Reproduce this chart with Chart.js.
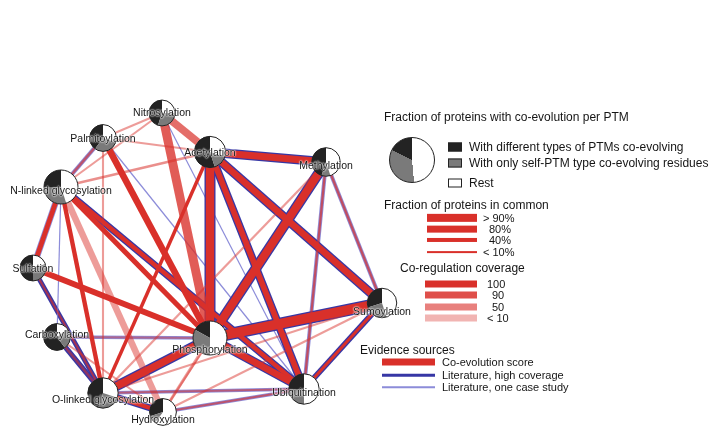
<!DOCTYPE html>
<html>
<head>
<meta charset="utf-8">
<script src="https://cdn.jsdelivr.net/npm/chart.js@4.4.1/dist/chart.umd.min.js"></script>
<style>
body { margin: 0; background: #fff; font-family: "Liberation Sans", Arial, sans-serif; }
#wrap { position: relative; width: 719px; height: 426px; overflow: hidden; }
#wrap canvas { position: absolute; left: 0; top: 0; }
.lbl { position: absolute; font-size: 10.5px; color: #151515; white-space: nowrap; transform: translate(-50%, -50%);
       text-shadow: 0 0 2px #fff, 0 0 2px #fff, 0 0 1px #fff; pointer-events: none; }
.leg { position: absolute; font-size: 12px; color: #151515; white-space: nowrap; transform: translateY(-50%); line-height: 13px; }
.leg.small { font-size: 11px; }
.sw { position: absolute; transform: translateY(-50%); }
</style>
</head>
<body>
<div id="wrap">
  <canvas id="netChart" width="719" height="426"></canvas>
  <div id="legend"></div>
</div>
<script>
// PTM nodes (layout positions in chart units)
const nodeNames = ['Nitrosylation', 'Palmitoylation', 'Acetylation', 'Methylation', 'N-linked glycosylation',
                   'Sulfation', 'Carboxylation', 'Phosphorylation', 'Sumoylation', 'Ubiquitination',
                   'O-linked glycosylation', 'Hydroxylation'];
const nodeX = [162, 103, 210, 326, 61, 33, 57, 210, 382, 304, 103, 163];
const nodeY = [113, 138, 152, 162, 187, 268, 337, 338, 303, 389, 393, 412];
// fraction of proteins: with different PTM types co-evolving / only self-PTM
const nodeDiff = [0.45, 0.40, 0.55, 0.45, 0.25, 0.50, 0.60, 0.17, 0.30, 0.25, 0.45, 0.30];
const nodeSelf = [0.30, 0.30, 0.15, 0.10, 0.30, 0.30, 0.25, 0.33, 0.25, 0.25, 0.25, 0.10];
const nodeWeight = [0.55, 0.6, 0.85, 0.7, 1.0, 0.55, 0.6, 1.0, 0.75, 0.8, 0.8, 0.6];

// edges: node indices, fraction of proteins in common, co-regulation coverage, literature evidence
const edgeFrom = [7, 7, 7, 7, 7, 7, 7, 7, 7, 7, 7, 2, 2, 2, 2, 2, 2, 2, 3, 3, 3, 3, 4, 4, 4, 4, 4, 4, 4, 1, 1, 1, 0, 5, 6, 6, 10, 10, 10, 11, 11, 8];
const edgeTo   = [0, 2, 1, 3, 8, 9, 10, 4, 5, 6, 11, 3, 0, 8, 9, 10, 4, 1, 8, 9, 10, 11, 1, 0, 5, 9, 10, 11, 6, 0, 9, 10, 9, 10, 10, 11, 11, 9, 8, 9, 8, 9];
const edgeShared = [0.85, 0.8, 0.6, 0.75, 0.95, 0.6, 0.7, 0.45, 0.5, 0.1, 0.2, 0.65, 0.7, 0.6, 0.5, 0.25, 0.15, 0.1,
                    0.12, 0.12, 0.12, 0.1, 0.15, 0.1, 0.4, 0.35, 0.35, 0.6, 0, 0.1, 0, 0.1, 0, 0.1, 0.15, 0.1,
                    0.35, 0.1, 0.1, 0.1, 0.1, 0.2];
const edgeCoverage = [80, 100, 100, 100, 100, 100, 100, 100, 100, 20, 30, 100, 65, 100, 100, 100, 40, 30,
                      60, 60, 30, 20, 50, 30, 100, 100, 100, 30, 0, 30, 0, 30, 0, 60, 40, 30,
                      100, 40, 30, 50, 30, 100];
const edgeLit = ['', 'high', '', 'high', 'high', 'high', 'high', '', '', 'case', '', 'high', '', 'high', 'high', '', '', '',
                 'case', 'case', '', '', 'case', '', 'case', 'high', '', '', 'case', '', 'case', '', 'case', 'high', 'high', '',
                 'high', 'case', '', 'case', '', 'high'];

// legend values
const sharedLegend = [['> 90%', 0.95], ['80%', 0.75], ['40%', 0.4], ['< 10%', 0.1]];
const coverageLegend = [['100', 100], ['90', 90], ['50', 50], ['< 10', 10]];

const RED = [217, 48, 42];
const BLUE_HIGH = 'rgb(55, 55, 165)';
const BLUE_CASE = 'rgba(120, 120, 210, 0.85)';

function redWidth(f) { return 1.2 + 9 * f; }
function redColor(cov) {
    const a = cov >= 100 ? 1 : 0.3 + cov / 90 * 0.55;
    return `rgba(${RED[0]}, ${RED[1]}, ${RED[2]}, ${a.toFixed(2)})`;
}

// build datasets
const datasets = [];
edgeFrom.forEach((a, i) => {
    const b = edgeTo[i];
    const pts = [{ x: nodeX[a], y: nodeY[a] }, { x: nodeX[b], y: nodeY[b] }];
    const w = edgeShared[i] > 0 ? redWidth(edgeShared[i]) : 0;
    if (edgeLit[i]) {
        const high = edgeLit[i] === 'high';
        datasets.push({
            type: 'line', data: pts, showLine: true, pointRadius: 0, order: 3,
            borderColor: high ? BLUE_HIGH : BLUE_CASE,
            borderWidth: w > 0 ? w + (high ? 2.6 : 1.6) : (high ? 2.2 : 1.2)
        });
    }
    if (w > 0) {
        datasets.push({
            type: 'line', data: pts, showLine: true, pointRadius: 0, order: 2,
            borderColor: redColor(edgeCoverage[i]), borderWidth: w
        });
    }
});
datasets.push({
    type: 'scatter', order: 0, pointRadius: 0,
    data: nodeX.map((x, i) => ({ x: x, y: nodeY[i] }))
});

// draw pies at node positions
const piePlugin = {
    id: 'pies',
    afterDatasetsDraw(chart) {
        const c = chart.ctx;
        const meta = chart.getDatasetMeta(chart.data.datasets.length - 1);
        meta.data.forEach((pt, i) => {
            const r = 8 + 9 * nodeWeight[i];
            const top = -Math.PI / 2;
            const d = top - 2 * Math.PI * nodeDiff[i];
            const s = d - 2 * Math.PI * nodeSelf[i];
            c.save();
            c.beginPath(); c.arc(pt.x, pt.y, r, 0, 2 * Math.PI); c.fillStyle = '#fff'; c.fill();
            c.beginPath(); c.moveTo(pt.x, pt.y); c.arc(pt.x, pt.y, r, top, d, true); c.closePath();
            c.fillStyle = '#232323'; c.fill();
            c.beginPath(); c.moveTo(pt.x, pt.y); c.arc(pt.x, pt.y, r, d, s, true); c.closePath();
            c.fillStyle = '#7a7a7a'; c.fill();
            c.beginPath(); c.arc(pt.x, pt.y, r, 0, 2 * Math.PI);
            c.lineWidth = 1; c.strokeStyle = '#222'; c.stroke();
            c.restore();
        });
    }
};

// node labels as html text, placed with the chart scales
const labelDy = [-1, 0, 0, 3, 3, 0, -3, 11, 8, 3, 6, 7];
const labelPlugin = {
    id: 'nodeLabels',
    afterRender(chart) {
        const wrap = document.getElementById('wrap');
        nodeNames.forEach((name, i) => {
            let el = document.getElementById('lbl' + i);
            if (!el) {
                el = document.createElement('div');
                el.id = 'lbl' + i; el.className = 'lbl'; el.textContent = name;
                wrap.appendChild(el);
            }
            el.style.left = chart.scales.x.getPixelForValue(nodeX[i]) + 'px';
            el.style.top = (chart.scales.y.getPixelForValue(nodeY[i]) + labelDy[i]) + 'px';
        });
    }
};

const ctx = document.getElementById('netChart').getContext('2d');
const netChart = new Chart(ctx, {
    type: 'scatter',
    data: { datasets: datasets },
    options: {
        responsive: false,
        animation: false,
        events: [],
        layout: { padding: 0 },
        plugins: { legend: { display: false }, tooltip: { enabled: false } },
        scales: {
            x: { type: 'linear', min: 0, max: 719, display: false },
            y: { type: 'linear', min: 0, max: 426, reverse: true, display: false }
        }
    },
    plugins: [piePlugin, labelPlugin]
});

// legend
const leg = document.getElementById('legend');
function addText(txt, x, y, small) {
    const el = document.createElement('div');
    el.className = small ? 'leg small' : 'leg'; el.textContent = txt;
    el.style.left = x + 'px'; el.style.top = y + 'px';
    leg.appendChild(el);
}
function addBox(x, y, w, h, css) {
    const el = document.createElement('div');
    el.className = 'sw';
    el.style.cssText += `left:${x}px;top:${y}px;width:${w}px;height:${h}px;` + css;
    leg.appendChild(el);
}
addText('Fraction of proteins with co-evolution per PTM', 384, 117);
addBox(389, 160, 46, 46, 'box-sizing:border-box;border:1px solid #222;border-radius:50%;' +
    'background:conic-gradient(#fff 0 48.5%, #7a7a7a 48.5% 82.5%, #232323 82.5% 100%);');
addBox(448, 147, 14, 9, 'background:#232323;border:1px solid #222;box-sizing:border-box;');
addText('With different types of PTMs co-evolving', 469, 147);
addBox(448, 163, 14, 9, 'background:#7a7a7a;border:1px solid #222;box-sizing:border-box;');
addText('With only self-PTM type co-evolving residues', 469, 163);
addBox(448, 183, 14, 9, 'background:#fff;border:1px solid #222;box-sizing:border-box;');
addText('Rest', 469, 183);

addText('Fraction of proteins in common', 384, 205);
sharedLegend.forEach(([t, f], i) => {
    const y = [218, 229, 240, 252][i];
    addBox(427, y, 50, redWidth(f) * 0.85, 'background:' + redColor(100) + ';');
    addText(t, t.length > 3 ? 483 : 489, y, true);
});
addText('Co-regulation coverage', 400, 268);
coverageLegend.forEach(([t, c], i) => {
    const y = [284, 295, 307, 318][i];
    addBox(425, y, 52, 7, 'background:' + redColor(c) + ';');
    addText(t, t.length > 2 ? 487 : 492, y, true);
});
addText('Evidence sources', 360, 350);
addBox(382, 362, 53, 7, 'background:' + redColor(100) + ';');
addText('Co-evolution score', 442, 362, true);
addBox(382, 375, 53, 2.5, 'background:' + BLUE_HIGH + ';');
addText('Literature, high coverage', 442, 375, true);
addBox(382, 387, 53, 1.5, 'background:' + BLUE_CASE + ';');
addText('Literature, one case study', 442, 387, true);
</script>
</body>
</html>
